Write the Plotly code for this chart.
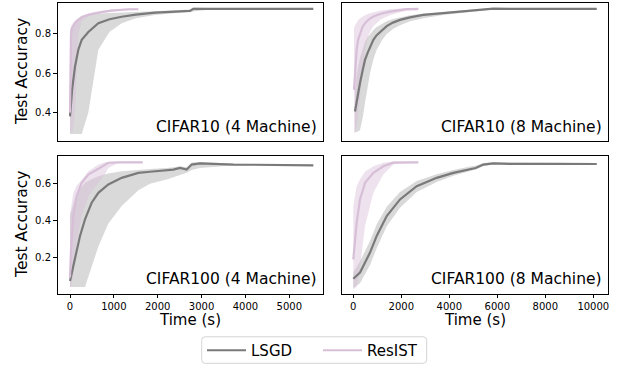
import plotly.graph_objects as go
from plotly.subplots import make_subplots

# ---------------- data ----------------
# CIFAR10 (4 Machine)
c10m4_lsgd_t = [0, 50, 114, 190, 267, 418, 646, 900, 1178, 1500, 1938, 2300, 2736, 2811, 3200, 4000, 5547]
c10m4_lsgd_mean = [0.38, 0.52, 0.634, 0.72, 0.77, 0.81, 0.855, 0.875, 0.888, 0.899, 0.909, 0.912, 0.918, 0.928, 0.928, 0.928, 0.928]
c10m4_lsgd_low = [0.29, 0.29, 0.29, 0.29, 0.29, 0.40, 0.72, 0.81, 0.855, 0.88, 0.897, 0.905, 0.912, 0.915, 0.925, 0.926, 0.926]
c10m4_lsgd_high = [0.82, 0.84, 0.86, 0.87, 0.88, 0.897, 0.905, 0.91, 0.913, 0.915, 0.917, 0.92, 0.925, 0.935, 0.932, 0.93, 0.93]
c10m4_res_t = [0, 23, 60, 114, 190, 267, 418, 570, 750, 950, 1150, 1330, 1557]
c10m4_res_mean = [0.40, 0.80, 0.835, 0.855, 0.872, 0.885, 0.898, 0.906, 0.913, 0.919, 0.923, 0.926, 0.926]
c10m4_res_low = [0.30, 0.30, 0.30, 0.40, 0.80, 0.865, 0.89, 0.90, 0.908, 0.914, 0.919, 0.922, 0.922]
c10m4_res_high = [0.82, 0.84, 0.855, 0.87, 0.882, 0.893, 0.905, 0.913, 0.92, 0.925, 0.928, 0.93, 0.93]

# CIFAR10 (8 Machine)
c10m8_lsgd_t = [70, 150, 279, 400, 488, 600, 696, 835, 975, 1200, 1392, 1650, 1946, 2363, 2917, 3750, 4308, 5142, 5833, 7000, 8500, 10142]
c10m8_lsgd_mean = [0.405, 0.47, 0.55, 0.62, 0.668, 0.705, 0.736, 0.77, 0.794, 0.82, 0.84, 0.858, 0.872, 0.885, 0.897, 0.906, 0.912, 0.922, 0.929, 0.928, 0.928, 0.928]
c10m8_lsgd_low = [0.30, 0.30, 0.31, 0.38, 0.45, 0.53, 0.60, 0.67, 0.72, 0.77, 0.80, 0.825, 0.845, 0.865, 0.88, 0.897, 0.905, 0.917, 0.925, 0.926, 0.926, 0.926]
c10m8_lsgd_high = [0.52, 0.60, 0.68, 0.73, 0.76, 0.785, 0.80, 0.82, 0.835, 0.852, 0.865, 0.876, 0.885, 0.895, 0.905, 0.913, 0.918, 0.926, 0.932, 0.93, 0.93, 0.93]
c10m8_res_t = [29, 80, 140, 200, 279, 380, 488, 650, 835, 1150, 1529, 1900, 2225, 2708]
c10m8_res_mean = [0.515, 0.64, 0.72, 0.77, 0.804, 0.835, 0.855, 0.875, 0.889, 0.903, 0.914, 0.921, 0.927, 0.928]
c10m8_res_low = [0.29, 0.30, 0.33, 0.40, 0.50, 0.62, 0.72, 0.80, 0.84, 0.875, 0.895, 0.91, 0.918, 0.92]
c10m8_res_high = [0.83, 0.845, 0.86, 0.87, 0.88, 0.888, 0.895, 0.905, 0.912, 0.92, 0.926, 0.93, 0.932, 0.932]

# CIFAR100 (4 Machine)
c100m4_lsgd_t = [0, 114, 228, 342, 494, 646, 874, 1178, 1558, 1824, 2204, 2356, 2508, 2660, 2774, 2964, 3724, 4500, 5547]
c100m4_lsgd_mean = [0.073, 0.19, 0.317, 0.407, 0.497, 0.551, 0.596, 0.632, 0.659, 0.665, 0.672, 0.677, 0.686, 0.677, 0.704, 0.71, 0.704, 0.702, 0.70]
c100m4_lsgd_low = [0.04, 0.04, 0.04, 0.04, 0.15, 0.26, 0.385, 0.48, 0.565, 0.60, 0.623, 0.635, 0.648, 0.659, 0.675, 0.686, 0.70, 0.70, 0.698]
c100m4_lsgd_high = [0.43, 0.52, 0.57, 0.605, 0.625, 0.641, 0.655, 0.668, 0.676, 0.68, 0.685, 0.69, 0.695, 0.69, 0.715, 0.718, 0.708, 0.705, 0.703]
c100m4_res_t = [0, 23, 76, 152, 266, 418, 646, 798, 874, 1100, 1400, 1657]
c100m4_res_mean = [0.092, 0.245, 0.425, 0.533, 0.605, 0.65, 0.681, 0.704, 0.714, 0.716, 0.716, 0.716]
c100m4_res_low = [0.04, 0.04, 0.10, 0.29, 0.425, 0.533, 0.605, 0.65, 0.686, 0.712, 0.712, 0.712]
c100m4_res_high = [0.43, 0.48, 0.551, 0.59, 0.62, 0.668, 0.704, 0.716, 0.72, 0.72, 0.72, 0.72]

# CIFAR100 (8 Machine)
c100m8_lsgd_t = [0, 279, 696, 975, 1392, 1946, 2642, 3475, 4167, 4862, 5100, 5417, 5833, 6500, 7500, 8500, 10142]
c100m8_lsgd_mean = [0.085, 0.119, 0.227, 0.317, 0.425, 0.515, 0.587, 0.632, 0.659, 0.681, 0.685, 0.704, 0.71, 0.708, 0.709, 0.708, 0.707]
c100m8_lsgd_low = [0.035, 0.06, 0.16, 0.25, 0.37, 0.47, 0.555, 0.61, 0.643, 0.67, 0.677, 0.695, 0.705, 0.704, 0.705, 0.704, 0.703]
c100m8_lsgd_high = [0.12, 0.18, 0.29, 0.38, 0.475, 0.555, 0.615, 0.652, 0.675, 0.693, 0.698, 0.712, 0.716, 0.712, 0.713, 0.712, 0.711]
c100m8_res_t = [0, 140, 279, 488, 835, 1250, 1667, 2200, 2708]
c100m8_res_mean = [0.19, 0.389, 0.515, 0.605, 0.659, 0.695, 0.714, 0.716, 0.716]
c100m8_res_low = [0.03, 0.04, 0.15, 0.37, 0.551, 0.65, 0.704, 0.712, 0.712]
c100m8_res_high = [0.479, 0.587, 0.625, 0.665, 0.695, 0.714, 0.72, 0.72, 0.72]

panel_titles = ["CIFAR10 (4 Machine)", "CIFAR10 (8 Machine)", "CIFAR100 (4 Machine)", "CIFAR100 (8 Machine)"]
series_names = ["LSGD", "ResIST"]
left_x_ticks = [0, 1000, 2000, 3000, 4000, 5000]
right_x_ticks = [0, 2000, 4000, 6000, 8000, 10000]
top_y_ticks = [0.4, 0.6, 0.8]
bottom_y_ticks = [0.2, 0.4, 0.6]

panels = [
    (1, 1, (c10m4_lsgd_t, c10m4_lsgd_mean, c10m4_lsgd_low, c10m4_lsgd_high),
           (c10m4_res_t, c10m4_res_mean, c10m4_res_low, c10m4_res_high)),
    (1, 2, (c10m8_lsgd_t, c10m8_lsgd_mean, c10m8_lsgd_low, c10m8_lsgd_high),
           (c10m8_res_t, c10m8_res_mean, c10m8_res_low, c10m8_res_high)),
    (2, 1, (c100m4_lsgd_t, c100m4_lsgd_mean, c100m4_lsgd_low, c100m4_lsgd_high),
           (c100m4_res_t, c100m4_res_mean, c100m4_res_low, c100m4_res_high)),
    (2, 2, (c100m8_lsgd_t, c100m8_lsgd_mean, c100m8_lsgd_low, c100m8_lsgd_high),
           (c100m8_res_t, c100m8_res_mean, c100m8_res_low, c100m8_res_high)),
]

# ---------------- style ----------------
W, H = 624, 367
FONT = "DejaVu Sans"
LSGD_LINE = "rgb(122,122,122)"
LSGD_BAND = "rgba(128,128,128,0.3)"
RES_LINE = "rgb(216,191,216)"
RES_BAND = "rgba(216,191,216,0.45)"

fig = make_subplots(rows=2, cols=2)

for idx, (r, c, lsgd, res) in enumerate(panels):
    for (t, m, lo, hi), band_col in ((lsgd, LSGD_BAND), (res, RES_BAND)):
        fig.add_trace(go.Scatter(x=list(t) + list(t)[::-1], y=list(lo) + list(hi)[::-1],
                                 fill="toself", fillcolor=band_col, line=dict(width=0),
                                 mode="lines", hoverinfo="skip", showlegend=False), row=r, col=c)
    for (t, m, lo, hi), col, name, lg in ((lsgd, LSGD_LINE, series_names[0], "legend"),
                                          (res, RES_LINE, series_names[1], "legend2")):
        fig.add_trace(go.Scatter(x=t, y=m, mode="lines", name=name, legend=lg,
                                 line=dict(color=col, width=2.2),
                                 showlegend=(idx == 0)), row=r, col=c)

# domains in pixel terms
def px_x(a, b):
    return [a / W, b / W]

def px_y(top, bottom):
    return [1 - bottom / H, 1 - top / H]

col_dom = {1: px_x(57.5, 323), 2: px_x(342, 608)}
row_dom = {1: px_y(3, 141.5), 2: px_y(156.5, 294.5)}
xr = {1: [-285, 5768], 2: [-471, 10613]}
yr = {1: [0.254, 0.958], 2: [0.004, 0.750]}
xt = {1: left_x_ticks, 2: right_x_ticks}
yt = {1: top_y_ticks, 2: bottom_y_ticks}

axis_common = dict(showline=True, mirror=True, linecolor="black", linewidth=1,
                   showgrid=False, zeroline=False, ticklen=3.5, tickwidth=1, tickcolor="black",
                   automargin=False,
                   tickfont=dict(family=FONT, size=10, color="black"))

for r in (1, 2):
    for c in (1, 2):
        fig.update_xaxes(domain=col_dom[c], range=xr[c], tickvals=xt[c], tickformat="d",
                         ticks="outside" if r == 2 else "", showticklabels=(r == 2),
                         ticklabelstandoff=0,
                         row=r, col=c, **axis_common)
        fig.update_yaxes(domain=row_dom[r], range=yr[r], tickvals=yt[r],
                         ticks="outside" if c == 1 else "", showticklabels=(c == 1),
                         row=r, col=c, **axis_common)

annotations = []
label_pos = {(1, 1): (319, 138), (1, 2): (604, 138), (2, 1): (319, 291), (2, 2): (604, 291)}
for (r, c, _, _), title in zip(panels, panel_titles):
    x, y = label_pos[(r, c)]
    annotations.append(dict(text=title, xref="paper", yref="paper", x=x / W, y=1 - y / H,
                            xanchor="right", yanchor="bottom", showarrow=False,
                            font=dict(family=FONT, size=15.5, color="black")))
for cy in ((3 + 141.5) / 2, (156.5 + 294.5) / 2):
    annotations.append(dict(text="Test Accuracy", xref="paper", yref="paper", x=22 / W, y=1 - cy / H,
                            xanchor="center", yanchor="middle", textangle=-90, showarrow=False,
                            font=dict(family=FONT, size=15.5, color="black")))
for cx in ((57.5 + 323) / 2, (342 + 608) / 2):
    annotations.append(dict(text="Time (s)", xref="paper", yref="paper", x=cx / W, y=1 - 332 / H,
                            xanchor="center", yanchor="bottom", showarrow=False,
                            font=dict(family=FONT, size=15, color="black")))

# rounded legend frame (pixel geometry converted to paper coordinates)
x0, x1, y0, y1, rad = 201.7, 426.7, 337.7, 364.3, 3.5

def to_paper_path(x0, x1, y0, y1, rad):
    def P(x, y):
        return f"{x / W:.5f},{1 - y / H:.5f}"
    return (f"M {P(x0 + rad, y0)} L {P(x1 - rad, y0)} Q {P(x1, y0)} {P(x1, y0 + rad)} "
            f"L {P(x1, y1 - rad)} Q {P(x1, y1)} {P(x1 - rad, y1)} L {P(x0 + rad, y1)} "
            f"Q {P(x0, y1)} {P(x0, y1 - rad)} L {P(x0, y0 + rad)} Q {P(x0, y0)} {P(x0 + rad, y0)} Z")

fig.add_shape(type="path", xref="paper", yref="paper", path=to_paper_path(x0, x1, y0, y1, rad),
              line=dict(color="#d4d4d4", width=1), fillcolor="white", layer="below")

leg_common = dict(orientation="h", yanchor="middle", y=1 - 351 / H, xanchor="left",
                  bgcolor="rgba(0,0,0,0)", borderwidth=0, itemwidth=39,
                  font=dict(family=FONT, size=15, color="black"))

fig.update_layout(
    width=W, height=H, margin=dict(l=0, r=0, t=0, b=0),
    paper_bgcolor="white", plot_bgcolor="white",
    font=dict(family=FONT, color="black"),
    annotations=annotations,
    showlegend=True,
    legend=dict(x=202 / W, **leg_common),
    legend2=dict(x=318 / W, **leg_common),
)

fig.write_html("out.html", config={"displayModeBar": False},
               post_script="document.body.style.margin='0';document.body.style.padding='0';")
